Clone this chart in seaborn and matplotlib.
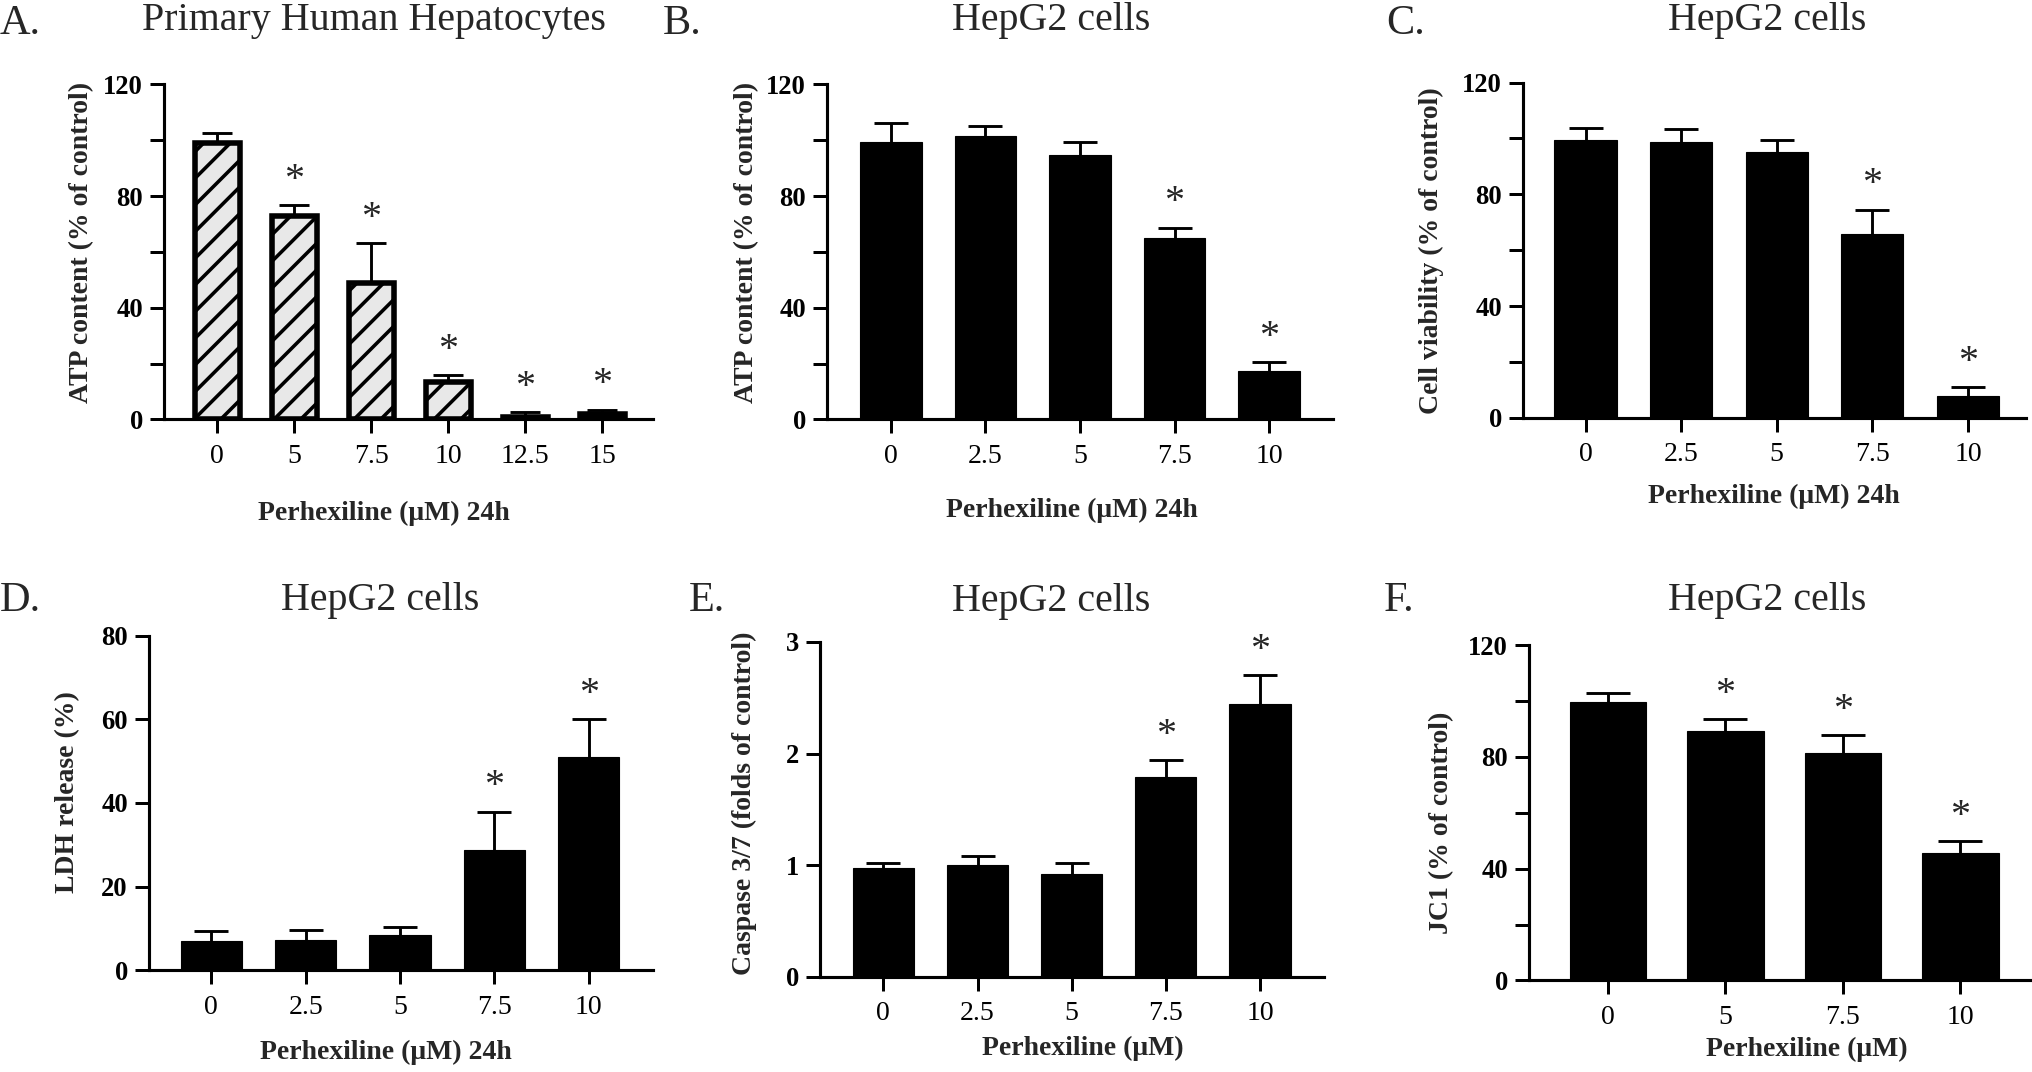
import matplotlib
matplotlib.use("Agg")
import matplotlib.pyplot as plt
import seaborn as sns

# A. primary human hepatocytes, ATP content (% of control)
a_doses = ["0", "5", "7.5", "10", "12.5", "15"]
a_atp = [99.0, 72.8, 48.7, 13.3, 1.0, 2.0]
a_atp_err = [3.7, 3.9, 14.4, 2.5, 1.6, 1.5]
a_sig = [False, True, True, True, True, True]

# B. HepG2, ATP content
b_doses = ["0", "2.5", "5", "7.5", "10"]
b_atp = [99.3, 101.5, 94.7, 65.1, 17.5]
b_atp_err = [6.9, 3.5, 4.7, 3.5, 2.9]
b_sig = [False, False, False, True, True]

# C. HepG2, cell viability
c_doses = ["0", "2.5", "5", "7.5", "10"]
c_viability = [99.4, 98.8, 95.3, 65.7, 7.8]
c_viability_err = [4.3, 4.7, 4.0, 8.7, 3.1]
c_sig = [False, False, False, True, True]

# D. HepG2, LDH release
d_doses = ["0", "2.5", "5", "7.5", "10"]
d_ldh = [6.9, 7.3, 8.5, 28.8, 51.0]
d_ldh_err = [2.5, 2.4, 1.9, 9.1, 9.0]
d_sig = [False, False, False, True, True]

# E. HepG2, caspase 3/7
e_doses = ["0", "2.5", "5", "7.5", "10"]
e_caspase = [0.98, 1.00, 0.926, 1.786, 2.44]
e_caspase_err = [0.04, 0.08, 0.094, 0.154, 0.26]
e_sig = [False, False, False, True, True]

# F. HepG2, JC1
f_doses = ["0", "5", "7.5", "10"]
f_jc1 = [99.6, 89.4, 81.4, 45.7]
f_jc1_err = [3.4, 4.1, 6.3, 4.1]
f_sig = [False, True, True, True]

W, H, DPI = 2032, 1072, 80

sns.set_style("ticks")
plt.rcParams["font.family"] = ["Liberation Serif", "DejaVu Serif"]
plt.rcParams["hatch.linewidth"] = 3.2
plt.rcParams["hatch.color"] = "black"

fig = plt.figure(figsize=(W / DPI, H / DPI), dpi=DPI)


def fx(x):
    return x / W


def fy(y):
    return 1 - y / H


def panel(rect, doses, means, errs, sig, yticks, ylabeled, xlim, width, cap,
          ylabel, xlabel, ylab_pos, xlab_pos, hatched=False):
    left, top, right, bottom = rect
    ax = fig.add_axes([fx(left), fy(bottom), (right - left) / W, (bottom - top) / H])
    if hatched:
        sns.barplot(x=doses, y=means, order=doses, ax=ax, color="#e8e8e8",
                    saturation=1, edgecolor="black", linewidth=5,
                    width=width, errorbar=None)
        for p in ax.patches:
            p.set_hatch("/")
    else:
        sns.barplot(x=doses, y=means, order=doses, ax=ax, color="black",
                    saturation=1, edgecolor="black", linewidth=1,
                    width=width, errorbar=None)
    ax.errorbar(range(len(doses)), means, yerr=errs, fmt="none", ecolor="black",
                elinewidth=2.6, capsize=cap, capthick=2.6, zorder=0.5)
    for i, s in enumerate(sig):
        if s:
            ax.annotate("*", xy=(i, means[i] + errs[i]), xytext=(0, 14),
                        textcoords="offset points", ha="center", va="baseline",
                        fontsize=36)
    ax.set_xlim(*xlim)
    ax.set_ylim(yticks[0], yticks[-1])
    ax.set_yticks(yticks)
    ax.set_yticklabels([f"{t:g}" if t in ylabeled else "" for t in yticks],
                       fontweight="bold", fontsize=24)
    ax.set_xticks(range(len(doses)))
    ax.set_xticklabels(doses, fontsize=25)
    ax.tick_params(axis="y", length=13, width=2.7, pad=6, colors="black")
    ax.tick_params(axis="x", length=13, width=2.7, pad=9, colors="black")
    sns.despine(ax=ax)
    for sp in ("left", "bottom"):
        ax.spines[sp].set_linewidth(2.8)
        ax.spines[sp].set_color("black")
    ax.set_xlabel("")
    ax.set_ylabel("")
    # axis titles placed as in the original layout
    fig.text(fx(ylab_pos[0]), fy(bottom) + ylab_pos[1] * (bottom - top) / H, ylabel,
             rotation=90, ha="center", va="center", fontsize=25, fontweight="bold")
    fig.text(fx(xlab_pos[0]), fy(xlab_pos[1]), xlabel, ha="center", va="center",
             fontsize=25, fontweight="bold")
    return ax


pct_ticks = [0, 20, 40, 60, 80, 100, 120]
pct_lab = [0, 40, 80, 120]

panel((164, 84.4, 653, 419.4), a_doses, a_atp, a_atp_err, a_sig, pct_ticks, pct_lab,
      (-0.69, 5.66), 0.585, 13.5, "ATP content (% of control)",
      "Perhexiline (\u03bcM) 24h", (82, 0.527), (384, 513), hatched=True)
panel((827, 84.4, 1333, 419.4), b_doses, b_atp, b_atp_err, b_sig, pct_ticks, pct_lab,
      (-0.677, 4.677), 0.65, 15.3, "ATP content (% of control)",
      "Perhexiline (\u03bcM) 24h", (747, 0.527), (1072, 510))
panel((1523, 82.6, 2026, 417.7), c_doses, c_viability, c_viability_err, c_sig,
      pct_ticks, pct_lab, (-0.654, 4.607), 0.65, 15.3,
      "Cell viability (% of control)", "Perhexiline (\u03bcM) 24h",
      (1431.5, 0.499), (1774, 496))
panel((149, 635.7, 653, 970.3), d_doses, d_ldh, d_ldh_err, d_sig,
      [0, 20, 40, 60, 80], [0, 20, 40, 60, 80], (-0.66, 4.68), 0.65, 15.3,
      "LDH release (%)", "Perhexiline (\u03bcM) 24h", (68, 0.533), (386, 1052))
panel((820, 641.8, 1324, 977), e_doses, e_caspase, e_caspase_err, e_sig,
      [0, 1, 2, 3], [0, 1, 2, 3], (-0.673, 4.68), 0.65, 15.3,
      "Caspase 3/7 (folds of control)", "Perhexiline (\u03bcM)",
      (744, 0.519), (1083, 1048))
panel((1529, 645.2, 2032, 980.4), f_doses, f_jc1, f_jc1_err, f_sig, pct_ticks, pct_lab,
      (-0.672, 3.61), 0.65, 20, "JC1 (% of control)", "Perhexiline (\u03bcM)",
      (1442, 0.471), (1807, 1049))

titles = ["Primary Human Hepatocytes", "HepG2 cells", "HepG2 cells",
          "HepG2 cells", "HepG2 cells", "HepG2 cells"]
title_pos = [(374, 30), (1051, 30), (1767, 30), (380, 610), (1051, 611), (1767, 610)]
letters = ["A.", "B.", "C.", "D.", "E.", "F."]
letter_pos = [(0, 34), (663, 34), (1386, 34), (0, 611), (689, 611), (1384, 611)]

for t, (x, y) in zip(titles, title_pos):
    fig.text(fx(x), fy(y), t, ha="center", va="baseline", fontsize=36)
for t, (x, y) in zip(letters, letter_pos):
    fig.text(fx(x), fy(y), t, ha="left", va="baseline", fontsize=38)

fig.savefig("out.png", dpi=DPI)
plt.close(fig)
